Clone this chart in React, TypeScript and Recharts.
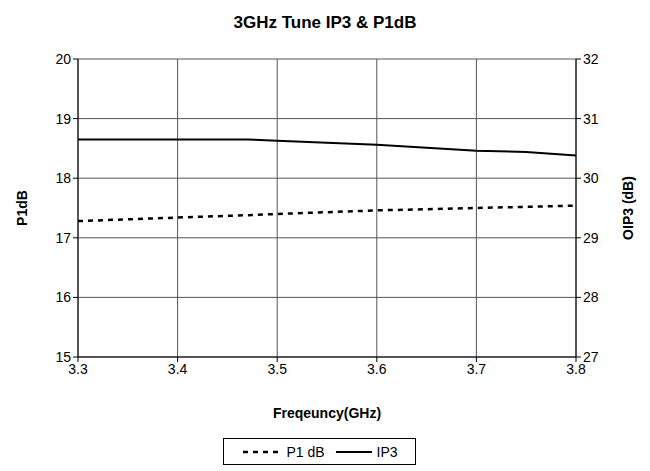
import React from "react";
import {
  LineChart,
  Line,
  XAxis,
  YAxis,
  CartesianGrid,
  Legend,
  Label,
} from "recharts";

// ── Data ──────────────────────────────────────────────────────────────────────

const freqGHz = [3.3, 3.4, 3.47, 3.5, 3.6, 3.7, 3.75, 3.8];
const p1dB = [17.28, 17.34, 17.38, 17.4, 17.46, 17.5, 17.52, 17.54];
const oip3 = [30.65, 30.65, 30.65, 30.63, 30.56, 30.46, 30.44, 30.38];

const xTicks = [3.3, 3.4, 3.5, 3.6, 3.7, 3.8];
const leftTicks = [15, 16, 17, 18, 19, 20];
const rightTicks = [27, 28, 29, 30, 31, 32];

const data = freqGHz.map((f, i) => ({ f, p1: p1dB[i], ip3: oip3[i] }));

const FONT = "'Liberation Sans', Arial, sans-serif";
const tickStyle = { fill: "#000", fontSize: 14, fontFamily: FONT };
const labelStyle = { fill: "#000", fontSize: 14, fontWeight: "bold", fontFamily: FONT };

function LegendBox() {
  return (
    <div
      style={{
        border: "1px solid #000",
        height: 25,
        display: "flex",
        alignItems: "center",
        justifyContent: "center",
        gap: 3,
        fontFamily: FONT,
        fontSize: 14,
        color: "#000",
      }}
    >
      <svg width={42} height={10}>
        <line x1={2} y1={5} x2={42} y2={5} stroke="#000" strokeWidth={2.5} strokeDasharray="5 5" />
      </svg>
      <span>P1 dB</span>
      <svg width={40} height={10} style={{ marginLeft: 6 }}>
        <line x1={2} y1={5} x2={38} y2={5} stroke="#000" strokeWidth={2} />
      </svg>
      <span>IP3</span>
    </div>
  );
}

export default function App() {
  return (
    <div style={{ position: "absolute", left: 0, top: 0, width: 650, height: 471, background: "#fff" }}>
      <div
        style={{
          position: "absolute",
          top: 13,
          width: 650,
          textAlign: "center",
          fontFamily: FONT,
          fontWeight: "bold",
          fontSize: 17,
        }}
      >
        3GHz Tune IP3 &amp; P1dB
      </div>
      <LineChart
        width={650}
        height={471}
        data={data}
        margin={{ top: 59, right: 34, bottom: 57, left: 38 }}
      >
        <CartesianGrid yAxisId="left" stroke="#555" strokeWidth={1} />
        <XAxis
          dataKey="f"
          type="number"
          domain={[3.3, 3.8]}
          ticks={xTicks}
          tickFormatter={(v: number) => v.toFixed(1)}
          tick={tickStyle}
          tickLine={{ stroke: "#000" }}
          axisLine={{ stroke: "#000" }}
          tickSize={5}
          height={30}
        >
          <Label value="Freqeuncy(GHz)" position="insideBottom" offset={-31} style={labelStyle} />
        </XAxis>
        <YAxis
          yAxisId="left"
          domain={[15, 20]}
          ticks={leftTicks}
          tick={tickStyle}
          tickLine={{ stroke: "#000" }}
          axisLine={{ stroke: "#000" }}
          tickSize={5}
          width={40}
        >
          <Label value="P1dB" angle={-90} position="insideLeft" offset={-16} style={{ ...labelStyle, textAnchor: "middle" }} />
        </YAxis>
        <YAxis
          yAxisId="right"
          orientation="right"
          domain={[27, 32]}
          ticks={rightTicks}
          tick={tickStyle}
          tickLine={{ stroke: "#000" }}
          axisLine={{ stroke: "#000" }}
          tickSize={5}
          width={40}
        >
          <Label value="OIP3 (dB)" angle={-90} position="insideRight" offset={-12} style={{ ...labelStyle, textAnchor: "middle" }} />
        </YAxis>
        <Line
          yAxisId="left"
          dataKey="p1"
          type="linear"
          stroke="#000"
          strokeWidth={2.5}
          strokeDasharray="5 5"
          dot={false}
          isAnimationActive={false}
        />
        <Line
          yAxisId="right"
          dataKey="ip3"
          type="linear"
          stroke="#000"
          strokeWidth={2}
          dot={false}
          isAnimationActive={false}
        />
        <Legend
          content={<LegendBox />}
          wrapperStyle={{ position: "absolute", left: 223, top: 438, width: 193, height: 27 }}
        />
      </LineChart>
    </div>
  );
}
